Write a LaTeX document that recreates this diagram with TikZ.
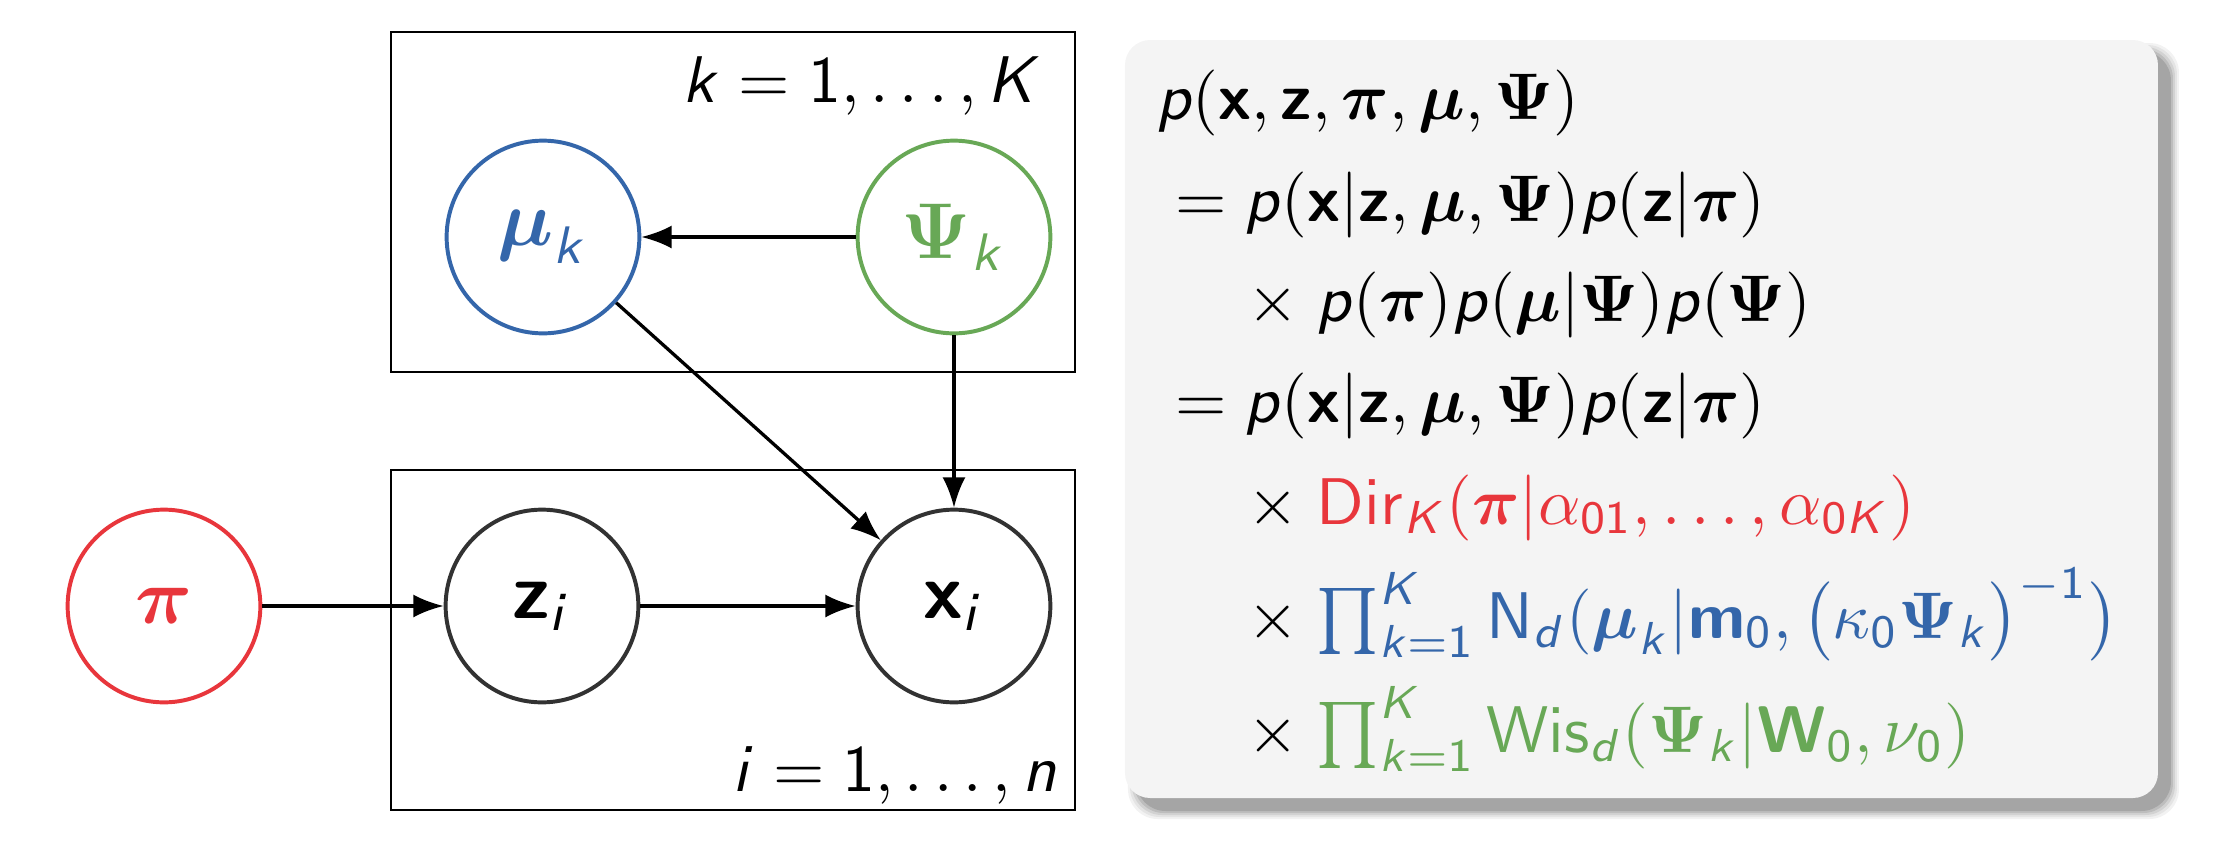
\documentclass[tikz,border=0pt]{standalone}
\usepackage{amsmath}
\usetikzlibrary{arrows.meta}
\DeclareSymbolFont{sfitalic}{OT1}{cmss}{m}{sl}
\SetSymbolFont{sfitalic}{bold}{OT1}{cmss}{bx}{sl}
\DeclareSymbolFont{sfupright}{OT1}{cmss}{m}{n}
\SetSymbolFont{sfupright}{bold}{OT1}{cmss}{bx}{n}
\newcount\mycnt
\mycnt=`a
\loop
  \mathcode\mycnt=\numexpr"7000+"100*\symsfitalic+\mycnt\relax
  \advance\mycnt by 1
\ifnum\mycnt<\numexpr`z+1\relax\repeat
\mycnt=`A
\loop
  \mathcode\mycnt=\numexpr"7000+"100*\symsfitalic+\mycnt\relax
  \advance\mycnt by 1
\ifnum\mycnt<\numexpr`Z+1\relax\repeat
\mycnt=`0
\loop
  \mathcode\mycnt=\numexpr"7000+"100*\symsfupright+\mycnt\relax
  \advance\mycnt by 1
\ifnum\mycnt<\numexpr`9+1\relax\repeat
\definecolor{cred}{RGB}{232,54,60}
\definecolor{cblue}{RGB}{52,102,170}
\definecolor{cgreen}{RGB}{104,168,86}
\definecolor{cdark}{RGB}{50,50,50}
\definecolor{boxfill}{RGB}{244,244,244}
\newcommand{\bsf}[1]{\boldsymbol{\mathsf{#1}}}
\newcommand{\bsy}[1]{\boldsymbol{#1}}
\tikzset{
  var/.style={circle, draw=cdark, line width=0.6pt, minimum size=29.2pt, inner sep=0pt,
    font=\fontsize{11.8}{14}\selectfont},
  plate/.style={draw=black, line width=0.34pt},
  arr/.style={-{Latex[length=4.6pt,width=3.5pt]}, line width=0.5pt, black},
  eqn/.style={anchor=base west, inner sep=0pt, font=\fontsize{9.95}{12}\selectfont},
  lbl/.style={anchor=base east, inner sep=0pt, font=\fontsize{10.3}{12}\selectfont}
}
\begin{document}
\begin{tikzpicture}[x=0.1515pt,y=-0.1515pt]
\useasboundingbox (0,0) rectangle (2222,862);
% plates
\draw[plate] (391,32) rectangle (1075,372);
\draw[plate] (391,470) rectangle (1075,810);
\node[lbl] (klab) at (1043,102) {$k=1,\ldots,K$};
\node[lbl] (ilab) at (1059,791) {$i=1,\ldots,n$};
% nodes
\node[var, draw=cblue, text=cblue] (mu) at (543,237) {$\bsy{\mu}_k$};
\node[var, draw=cgreen, text=cgreen] (Psi) at (954,237) {$\bsy{\Psi}_k$};
\node[var, draw=cred, text=cred] (pi) at (164,606) {$\bsy{\pi}$};
\node[var] (z) at (542,606) {$\bsf{z}_i$};
\node[var] (x) at (954,606) {$\bsf{x}_i$};
% edges
\draw[arr] (Psi) -- (mu);
\draw[arr] (mu) -- (x);
\draw[arr] (Psi) -- (x);
\draw[arr] (pi) -- (z);
\draw[arr] (z) -- (x);
% box shadow
\foreach \s/\o in {9/0.05,7/0.06,5/0.08,3/0.10,1/0.13} {
  \fill[black, opacity=\o, rounded corners=4.5pt] (1137-\s,52-\s) rectangle (2170+\s,810+\s);
}
\fill[boxfill, rounded corners=3.8pt] (1125,40) rectangle (2158,798);
% equations
\node[eqn] (l1) at (1155,119) {$p(\bsf{x},\bsf{z},\bsy{\pi},\bsy{\mu},\bsy{\Psi})$};
\node[eqn] (l2) at (1174,221) {$=p(\bsf{x}|\bsf{z},\bsy{\mu},\bsy{\Psi})p(\bsf{z}|\bsy{\pi})$};
\node[eqn] (l3) at (1246,321) {$\mathrel{\times}p(\bsy{\pi})p(\bsy{\mu}|\bsy{\Psi})p(\bsy{\Psi})$};
\node[eqn] (l4) at (1174,422) {$=p(\bsf{x}|\bsf{z},\bsy{\mu},\bsy{\Psi})p(\bsf{z}|\bsy{\pi})$};
\node[eqn] (l5) at (1246,524) {$\mathrel{\times}\color{cred}\mathsf{Dir}_K(\bsy{\pi}|\alpha_{01},\ldots,\alpha_{0K})$};
\node[eqn] (l6) at (1246,638) {$\mathrel{\times}\color{cblue}\prod_{k=1}^K\mathsf{N}_d(\bsy{\mu}_k|\bsf{m}_0,\bigl(\kappa_0\bsy{\Psi}_k\bigr)^{-1}\bigr)$};
\node[eqn] (l7) at (1246,752) {$\mathrel{\times}\color{cgreen}\prod_{k=1}^K\mathsf{Wis}_d(\bsy{\Psi}_k|\bsf{W}_0,\nu_0)$};
\end{tikzpicture}
\end{document}
